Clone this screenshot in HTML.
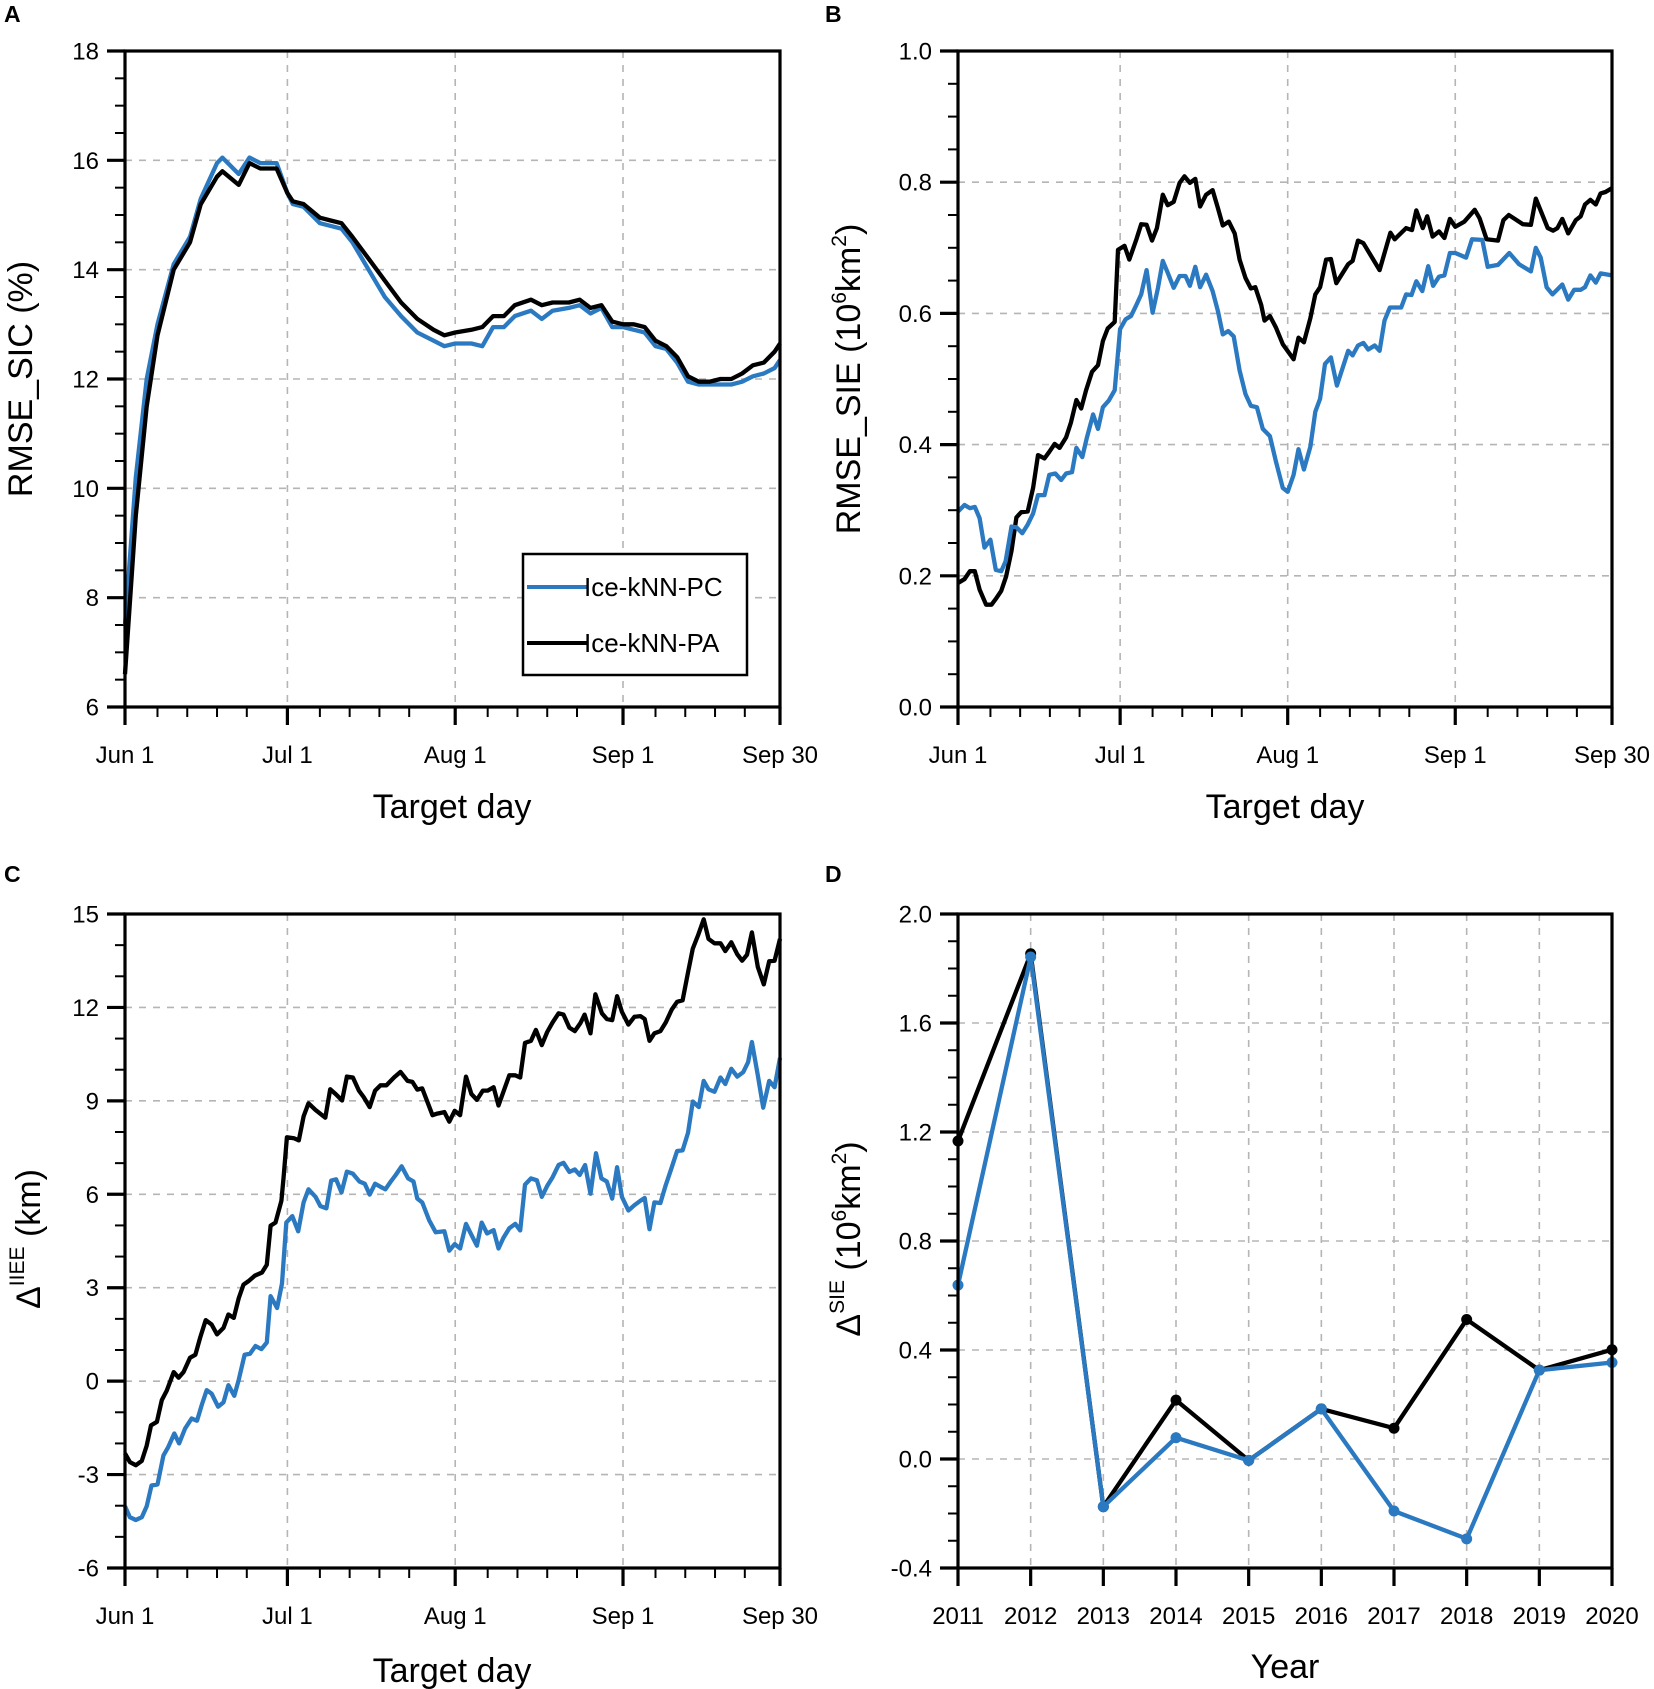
<!DOCTYPE html>
<html><head><meta charset="utf-8">
<style>
html,body{margin:0;padding:0;background:#fff;}
svg{display:block;font-family:"Liberation Sans",Arial,sans-serif;}
</style></head>
<body>
<svg id="fig" width="1654" height="1689" viewBox="0 0 1654 1689" xmlns="http://www.w3.org/2000/svg">
<rect width="1654" height="1689" fill="#fff"/>
<text x="4" y="22" font-size="23" font-weight="bold">A</text>
<text x="825" y="22" font-size="23" font-weight="bold">B</text>
<text x="4" y="882" font-size="23" font-weight="bold">C</text>
<text x="825" y="882" font-size="23" font-weight="bold">D</text>

<text transform="translate(32,379) rotate(-90)" text-anchor="middle" font-size="34">RMSE_SIC (%)</text>
<text transform="translate(860,379) rotate(-90)" text-anchor="middle" font-size="34">RMSE_SIE (10<tspan font-size="21" dy="-14">6</tspan><tspan dy="14">km</tspan><tspan font-size="21" dy="-14">2</tspan><tspan dy="14">)</tspan></text>
<text transform="translate(40,1239) rotate(-90)" text-anchor="middle" font-size="34">Δ<tspan font-size="21" dy="-16">IIEE</tspan><tspan dy="16"> (km)</tspan></text>
<text transform="translate(860,1239) rotate(-90)" text-anchor="middle" font-size="34">Δ<tspan font-size="21" dy="-16">SIE</tspan><tspan dy="16"> (10</tspan><tspan font-size="21" dy="-14">6</tspan><tspan dy="14">km</tspan><tspan font-size="21" dy="-14">2</tspan><tspan dy="14">)</tspan></text>

<text x="452" y="818" text-anchor="middle" font-size="34">Target day</text>
<text x="1285" y="818" text-anchor="middle" font-size="34">Target day</text>
<text x="452" y="1682" text-anchor="middle" font-size="34">Target day</text>
<text x="1285" y="1678" text-anchor="middle" font-size="34">Year</text>
</svg>
<script>
// ---------- data ----------
const monthLabels=["Jun 1","Jul 1","Aug 1","Sep 1","Sep 30"];
const monthDays=[0,30,61,92,121];

const aDays=[0,2,4,6,9,12,14,17,18,21,23,25,28,30,31,33,36,38,40,42,45,48,51,54,57,59,61,64,66,68,70,72,75,77,79,82,84,86,88,90,92,94,96,98,100,102,104,106,108,110,112,114,116,118,120,121];
const aPA=[6.6,9.5,11.5,12.8,14.0,14.5,15.2,15.7,15.8,15.55,15.95,15.85,15.85,15.4,15.25,15.2,14.95,14.9,14.85,14.6,14.2,13.8,13.4,13.1,12.9,12.8,12.85,12.9,12.95,13.15,13.15,13.35,13.45,13.35,13.4,13.4,13.45,13.3,13.35,13.05,13.0,13.0,12.95,12.7,12.6,12.4,12.05,11.95,11.95,12.0,12.0,12.1,12.25,12.3,12.5,12.65];
const aPC=[7.5,10.2,12.0,13.0,14.1,14.6,15.3,15.95,16.05,15.75,16.05,15.95,15.95,15.4,15.2,15.15,14.85,14.8,14.75,14.5,14.0,13.5,13.15,12.85,12.7,12.6,12.65,12.65,12.6,12.95,12.95,13.15,13.25,13.1,13.25,13.3,13.35,13.2,13.3,12.95,12.95,12.9,12.85,12.6,12.55,12.3,11.95,11.9,11.9,11.9,11.9,11.95,12.05,12.1,12.2,12.35];
const aYTicks=[6,8,10,12,14,16,18];

const bDaysPA=[0,1.2,2.2,3.1,4,5.2,6.2,7.1,8,8.9,9.9,10.8,11.7,12.9,13.9,14.8,16,16.9,17.9,18.8,20,20.9,21.9,22.8,23.7,24.8,25.9,26.8,27.7,29,29.6,30.8,31.7,33,33.9,34.9,35.9,36.8,37.9,38.8,39.9,41,41.9,42.9,43.9,44.8,45.9,47.1,48.1,49,50.1,51.2,52.1,53.2,54.2,55,56.1,56.7,57.7,58.8,60.1,62.1,63,64,65.2,66.1,67,68.1,69,70,72.2,73,74,75,78,80,80.8,82.9,84,84.8,86,86.8,87.8,89,90,91,92,93.7,95.6,96.5,97.8,99.9,100.9,101.9,104.5,106,106.9,109.1,110.1,110.9,111.8,112.9,114.3,115.2,116,117,118,118.9,119.8,121];
const bPA=[0.189,0.195,0.207,0.207,0.179,0.156,0.156,0.166,0.177,0.199,0.238,0.289,0.297,0.298,0.334,0.384,0.379,0.389,0.401,0.395,0.411,0.434,0.468,0.455,0.483,0.511,0.521,0.558,0.577,0.587,0.697,0.703,0.682,0.713,0.736,0.735,0.711,0.730,0.781,0.765,0.770,0.799,0.809,0.799,0.805,0.763,0.781,0.788,0.760,0.734,0.740,0.722,0.682,0.654,0.638,0.640,0.613,0.589,0.596,0.579,0.553,0.530,0.563,0.556,0.593,0.629,0.640,0.682,0.683,0.646,0.675,0.680,0.711,0.707,0.666,0.723,0.713,0.730,0.727,0.757,0.730,0.748,0.717,0.725,0.715,0.744,0.732,0.740,0.758,0.745,0.713,0.711,0.742,0.750,0.736,0.735,0.775,0.730,0.726,0.730,0.744,0.722,0.742,0.748,0.766,0.773,0.766,0.783,0.785,0.791];
const bDaysPC=[0,1.2,2.2,3.1,4,4.9,6,7,8,8.8,9.9,10.8,11.9,12.9,13.9,14.8,16,16.9,18,19.1,20,21.1,21.9,23,23.8,25,25.9,26.8,27.9,29,30,31,32,33,33.9,34.9,36,37,37.9,38.8,39.9,41,42.1,42.9,43.9,44.8,45.9,47.1,48.1,49,50,51,52.1,53.2,54.2,55.3,56.4,57.7,58.8,60.1,61,62.1,63,64,65.2,66.1,67,67.9,69,70.1,72.2,73,74,75,75.9,77.1,78,78.9,79.9,82,82.9,83.9,84.8,85.9,87,87.9,89,90,91,92,94,95.1,97,98,99.9,102,103.8,106,106.9,107.8,108.9,110,111.8,112.9,114,115.2,116,117,118,118.9,121];
const bPC=[0.298,0.308,0.303,0.305,0.288,0.243,0.255,0.209,0.207,0.222,0.275,0.274,0.265,0.278,0.295,0.323,0.323,0.354,0.356,0.346,0.356,0.358,0.395,0.381,0.409,0.446,0.424,0.457,0.467,0.483,0.576,0.591,0.596,0.613,0.629,0.666,0.601,0.639,0.680,0.662,0.639,0.657,0.657,0.642,0.671,0.640,0.659,0.634,0.603,0.568,0.573,0.565,0.513,0.477,0.459,0.457,0.424,0.413,0.375,0.334,0.328,0.354,0.393,0.362,0.397,0.450,0.470,0.523,0.533,0.490,0.543,0.536,0.551,0.555,0.545,0.551,0.543,0.589,0.609,0.609,0.629,0.628,0.649,0.634,0.672,0.642,0.656,0.658,0.692,0.692,0.685,0.713,0.712,0.671,0.674,0.692,0.675,0.664,0.700,0.685,0.640,0.629,0.644,0.621,0.636,0.636,0.640,0.658,0.647,0.661,0.658];
const bYTicks=[0,0.2,0.4,0.6,0.8,1.0];

const cDaysPA=[0,0.9,2,3.1,4,4.8,5.9,6.8,7.7,9,9.9,10.8,12,13,13.9,14.9,16,17,18.2,19.1,20.1,21,21.9,22.8,24,25.3,26.2,26.9,27.8,28.9,29.3,29.9,31.2,32.1,33,33.9,35.2,37,37.9,38.9,40.1,41,42.1,43.2,44.1,45.2,46.2,47.2,48.3,49.7,50.9,52.2,53.1,54,54.9,56.8,57.7,59,59.9,60.9,61.9,63,64,65,66.1,67,68.1,69,69.9,71,72.1,73,73.9,75,75.9,77,78,79,80.1,81,82.1,83.1,84.1,84.9,86,86.9,88.1,89,90,90.9,91.8,93,94.1,95.2,96,96.9,97.8,98.9,99.9,101,102,103,104,104.9,105.9,106.9,107.8,108.9,110,110.9,112,113.1,114,114.9,115.8,116.9,118,119,120,121];
const cPA=[-2.32,-2.6,-2.7,-2.56,-2.07,-1.42,-1.31,-0.61,-0.31,0.29,0.11,0.29,0.75,0.85,1.40,1.96,1.82,1.50,1.71,2.14,2.03,2.66,3.10,3.21,3.39,3.49,3.74,4.99,5.09,5.79,6.55,7.83,7.80,7.73,8.50,8.92,8.71,8.46,9.37,9.22,9.01,9.78,9.75,9.33,9.12,8.80,9.33,9.50,9.50,9.75,9.93,9.64,9.61,9.36,9.40,8.54,8.59,8.64,8.33,8.68,8.54,9.78,9.22,9.03,9.33,9.33,9.44,8.85,9.29,9.82,9.82,9.75,10.86,10.93,11.28,10.79,11.21,11.52,11.81,11.77,11.35,11.24,11.49,11.77,11.17,12.42,11.81,11.63,11.59,12.36,11.86,11.45,11.70,11.72,11.63,10.93,11.17,11.24,11.52,11.93,12.18,12.23,13.12,13.89,14.34,14.83,14.20,14.06,14.06,13.81,14.09,13.71,13.50,13.69,14.41,13.30,12.74,13.48,13.50,14.20];
const cDaysPC=[0,0.9,2,3.1,4,4.9,6,7.1,8,9.1,10,11.1,12.3,13.3,14.2,15.1,16,17.2,18.2,19.1,20.2,21,22.1,23.1,24.1,25.2,26.2,26.9,28.1,29,29.8,30.9,32,33,33.9,35.2,36.1,37.2,38.1,39,40,41,42.1,43.3,44.3,45.2,46.2,47.2,48.1,49.1,50,51.1,52.3,53.3,54,54.9,56.2,57.4,59,59.9,60.9,61.9,63,64,65,65.9,66.9,68.1,69,69.9,71,72.1,73,73.9,75,76.1,77,78,79,80.1,81,82.1,83.1,84,85,86,87,88,89,90,90.9,91.8,93,94.1,95.2,96,96.9,97.8,98.9,99.9,101,102,103,104,104.9,106,106.9,107.8,108.9,110,110.9,112,113.1,114.2,115.1,115.8,116.9,117.9,119,120,121];
const cPC=[-4.02,-4.37,-4.46,-4.37,-4.02,-3.35,-3.32,-2.39,-2.11,-1.68,-2.00,-1.52,-1.20,-1.27,-0.75,-0.29,-0.40,-0.82,-0.68,-0.13,-0.47,0.04,0.85,0.88,1.13,1.03,1.24,2.73,2.35,3.14,5.09,5.30,4.81,5.74,6.16,5.92,5.62,5.55,6.44,6.48,6.06,6.73,6.66,6.41,6.34,5.99,6.34,6.24,6.16,6.41,6.62,6.90,6.51,6.41,5.86,5.74,5.16,4.78,4.81,4.19,4.40,4.26,5.05,4.70,4.35,5.09,4.74,4.85,4.26,4.60,4.91,5.05,4.84,6.31,6.51,6.45,5.92,6.27,6.55,6.94,7.01,6.72,6.80,6.62,6.94,6.02,7.32,6.51,6.41,5.86,6.87,5.92,5.48,5.65,5.79,5.88,4.88,5.74,5.72,6.30,6.86,7.39,7.41,7.97,8.98,8.80,9.64,9.37,9.29,9.75,9.54,10.03,9.78,9.92,10.24,10.89,9.82,8.78,9.64,9.44,10.38];
const cYTicks=[-6,-3,0,3,6,9,12,15];

const dYears=[2011,2012,2013,2014,2015,2016,2017,2018,2019,2020];
const dPA=[1.167,1.854,-0.175,0.216,-0.005,0.184,0.113,0.512,0.326,0.401];
const dPC=[0.638,1.842,-0.175,0.078,-0.005,0.184,-0.191,-0.293,0.326,0.354];
const dYTicks=[-0.4,0,0.4,0.8,1.2,1.6,2.0];

// ---------- drawing ----------
const NS="http://www.w3.org/2000/svg";
const svg=document.getElementById('fig');
const BLUE="#2a79c1";
function mk(tag,attrs,parent){const e=document.createElementNS(NS,tag);for(const k in attrs)e.setAttribute(k,attrs[k]);(parent||svg).appendChild(e);return e;}

function panel(id,box,xmin,xmax,ymin,ymax,yticks,yfmt,yminor,xticks,xlabels,xminor){
  const g=mk('g',{});
  
  
  const X=v=>box.L+(v-xmin)/(xmax-xmin)*(box.R-box.L);
  const Y=v=>box.B-(v-ymin)/(ymax-ymin)*(box.B-box.T);
  yticks.forEach(t=>{const y=Y(t); if(Math.abs(y-box.T)<1||Math.abs(y-box.B)<1)return;
    const l=mk('line',{x1:box.L,x2:box.R,y1:y,y2:y,stroke:'#b5b5b5','stroke-width':1.6,'stroke-dasharray':'7,7'},g);
    
    });
  xticks.forEach(t=>{const x=X(t); if(Math.abs(x-box.L)<1||Math.abs(x-box.R)<1)return;
    const l=mk('line',{x1:x,x2:x,y1:box.T,y2:box.B,stroke:'#b5b5b5','stroke-width':1.6,'stroke-dasharray':'7,7'},g);
    
    });
  for(let v=ymin;v<=ymax+1e-9;v+=yminor){const y=Y(v);
    mk('line',{x1:box.L-10,x2:box.L,y1:y,y2:y,stroke:'#000','stroke-width':2},g);}
  xminor.forEach(t=>{const x=X(t);mk('line',{x1:x,x2:x,y1:box.B,y2:box.B+10,stroke:'#000','stroke-width':2},g);});
  yticks.forEach(t=>{const y=Y(t);
    mk('line',{x1:box.L-18,x2:box.L,y1:y,y2:y,stroke:'#000','stroke-width':3.2},g);
    const tx=mk('text',{x:box.L-26,y:y+8.5,'text-anchor':'end','font-size':24},g);
    
    
    tx.textContent=yfmt(t);});
  xticks.forEach((t,i)=>{const x=X(t);
    mk('line',{x1:x,x2:x,y1:box.B,y2:box.B+18,stroke:'#000','stroke-width':3.2},g);
    const tx=mk('text',{x:x,y:box.B+56,'text-anchor':'middle','font-size':24},g);
    
    
    tx.textContent=xlabels[i];});
  return {g,X,Y};
}
function series(p,xs,ys,color,name,markers){
  const d=xs.map((x,i)=>(i?'L':'M')+p.X(x).toFixed(1)+','+p.Y(ys[i]).toFixed(1)).join('');
  const path=mk('path',{d:d,fill:'none',stroke:color,'stroke-width':4.3,'stroke-linejoin':'round'},p.g);
  
  
  if(markers){xs.forEach((x,i)=>{const c=mk('circle',{cx:p.X(x),cy:p.Y(ys[i]),r:5.5,fill:color},p.g);
    
    });}
}
function frame(p,box){const r=mk('rect',{x:box.L,y:box.T,width:box.R-box.L,height:box.B-box.T,fill:'none',stroke:'#000','stroke-width':3.2},p.g);
  
  }

const monthMinor=[];
[0,30,61,92].forEach(m=>[6,11.5,17,22.5].forEach(o=>{if(m+o<121)monthMinor.push(m+o);}));

const boxA={L:125,R:780,T:51,B:707}, boxB={L:958,R:1612,T:51,B:707};
const boxC={L:125,R:780,T:914,B:1568}, boxD={L:958,R:1612,T:914,B:1568};

const pA=panel('a',boxA,0,121,6,18,aYTicks,v=>String(v),0.5,monthDays,monthLabels,monthMinor);
series(pA,aDays,aPC,BLUE,'line-ice-knn-pc');
series(pA,aDays,aPA,'#000','line-ice-knn-pa');
frame(pA,boxA);

const pB=panel('b',boxB,0,121,0,1,bYTicks,v=>v.toFixed(1),0.05,monthDays,monthLabels,monthMinor);
series(pB,bDaysPA,bPA,'#000','line-ice-knn-pa');
series(pB,bDaysPC,bPC,BLUE,'line-ice-knn-pc');
frame(pB,boxB);

const pC=panel('c',boxC,0,121,-6,15,cYTicks,v=>String(v),1,monthDays,monthLabels,monthMinor);
series(pC,cDaysPA,cPA,'#000','line-ice-knn-pa');
series(pC,cDaysPC,cPC,BLUE,'line-ice-knn-pc');
frame(pC,boxC);

const pD=panel('d',boxD,2011,2020,-0.4,2.0,dYTicks,v=>v.toFixed(1),0.1,dYears,dYears.map(String),[]);
series(pD,dYears,dPA,'#000','line-ice-knn-pa',true);
series(pD,dYears,dPC,BLUE,'line-ice-knn-pc',true);
frame(pD,boxD);

const lg=mk('g',{});


mk('rect',{x:523,y:554,width:224,height:121,fill:'#fff',stroke:'#000','stroke-width':2.5},lg);
const e1=mk('g',{},lg);


mk('line',{x1:527,x2:587,y1:587,y2:587,stroke:BLUE,'stroke-width':4},e1);
const t1=mk('text',{x:584,y:596,'font-size':26},e1);t1.textContent='Ice-kNN-PC';
const e2=mk('g',{},lg);


mk('line',{x1:527,x2:587,y1:643,y2:643,stroke:'#000','stroke-width':4},e2);
const t2=mk('text',{x:584,y:652,'font-size':26},e2);t2.textContent='Ice-kNN-PA';
</script>
</body></html>
